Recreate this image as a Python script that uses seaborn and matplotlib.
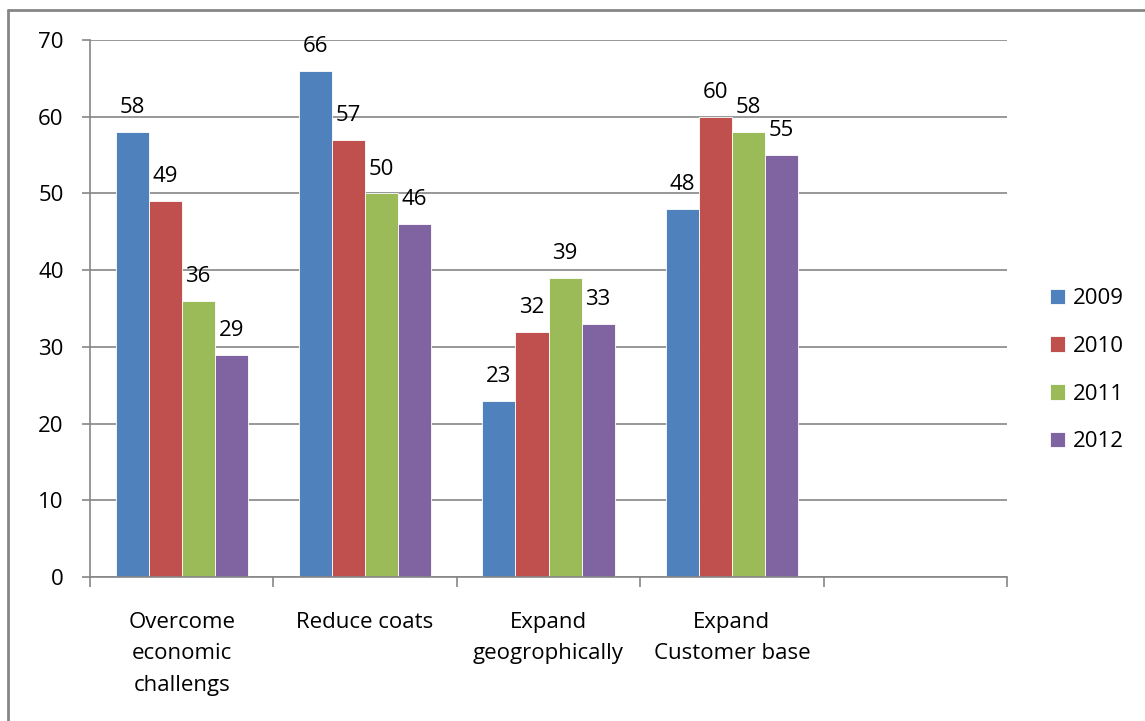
import pandas as pd
import matplotlib.pyplot as plt
import seaborn as sns
from matplotlib.lines import Line2D
from matplotlib.ticker import MultipleLocator

# Dados do gráfico
categorias = ["Overcome\neconomic\nchallengs", "Reduce coats",
              "Expand\ngeogrophically", "Expand\nCustomer base"]
anos = ["2009", "2010", "2011", "2012"]
v2009 = [58, 66, 23, 48]
v2010 = [49, 57, 32, 60]
v2011 = [36, 50, 39, 58]
v2012 = [29, 46, 33, 55]
cores = ["#4F81BD", "#C0504D", "#9BBB59", "#8064A2"]

df = pd.DataFrame({
    "categoria": categorias * 4,
    "ano": [a for a in anos for _ in categorias],
    "valor": v2009 + v2010 + v2011 + v2012,
})

# slot vazio no fim, como no original
ordem = categorias + [" "]

sns.set_style("white")
plt.rcParams['font.family'] = ['Open Sans', 'DejaVu Sans']
plt.rcParams['text.color'] = 'black'
plt.rcParams['xtick.labelcolor'] = 'black'
plt.rcParams['ytick.labelcolor'] = 'black'

fs = 16

fig = plt.figure(figsize=(11.45, 7.21), dpi=100)
ax = fig.add_axes([90 / 1145, 1 - 577 / 721, (1007 - 90) / 1145, (577 - 40) / 721])

sns.barplot(data=df, x="categoria", y="valor", hue="ano", order=ordem,
            hue_order=anos, palette=cores, width=0.72, saturation=1,
            edgecolor="white", linewidth=0.6, ax=ax)

# rótulos em cima das barras
for cont in ax.containers:
    ax.bar_label(cont, fmt="%d", padding=10, fontsize=fs, color="black")

ax.set_ylim(0, 70)
ax.set_xlim(-0.5, len(ordem) - 0.5)
ax.yaxis.set_major_locator(MultipleLocator(10))
ax.grid(axis="y", color="#868686", linewidth=1.2)
ax.set_axisbelow(True)
ax.set_xlabel("")
ax.set_ylabel("")

for s in ["top", "right"]:
    ax.spines[s].set_visible(False)
for s in ["left", "bottom"]:
    ax.spines[s].set_color("#868686")
    ax.spines[s].set_linewidth(1.2)

ax.tick_params(axis="y", left=True, length=6, color="#868686", width=1.2,
               labelsize=fs, pad=13)
ax.tick_params(axis="x", which="major", length=0, labelsize=fs, pad=25)
ax.set_xticks([i - 0.5 for i in range(len(ordem) + 1)], minor=True)
ax.tick_params(axis="x", which="minor", bottom=True, length=7,
               color="#868686", width=1.2)
for lbl in ax.get_xticklabels():
    lbl.set_linespacing(1.66)

ax.legend(loc="center left", bbox_to_anchor=(1.025, 0.385), frameon=False,
          fontsize=fs, handlelength=0.7, handleheight=0.7,
          labelspacing=1.2, handletextpad=0.35)

# moldura do gráfico (só esquerda e topo aparecem)
fig.add_artist(Line2D([8 / 1145, 8 / 1145], [0, 1 - 10 / 721], color="#868686", lw=2))
fig.add_artist(Line2D([8 / 1145, 1], [1 - 10 / 721, 1 - 10 / 721], color="#868686", lw=2))

fig.savefig("out.png", dpi=100)
